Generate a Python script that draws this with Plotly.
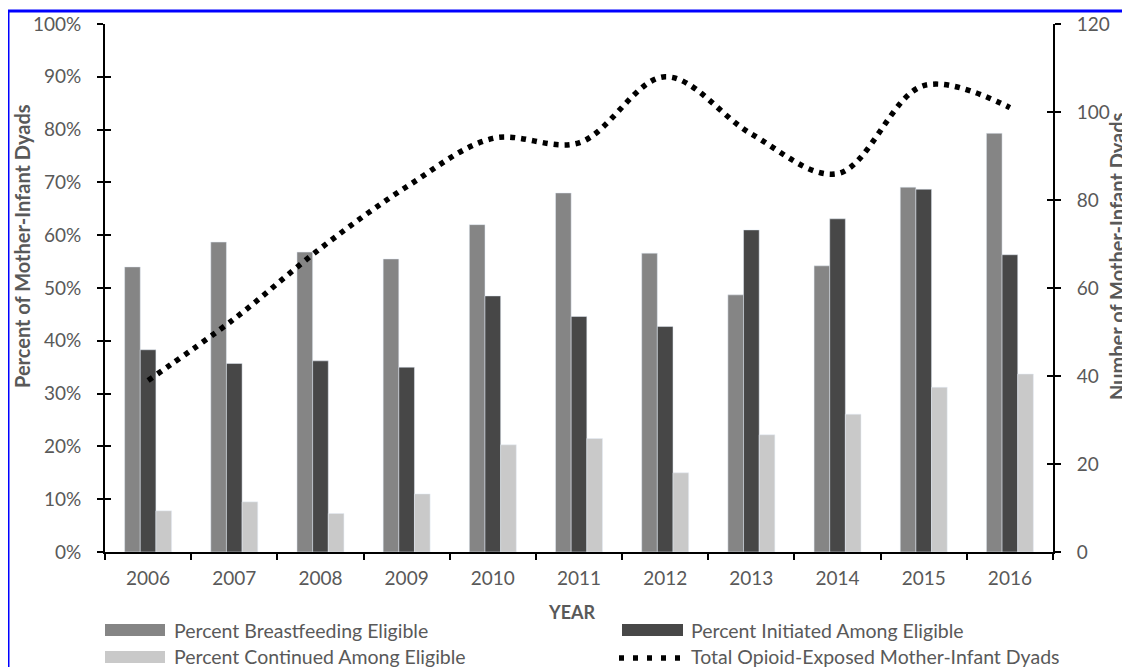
import plotly.graph_objects as go

years = ["2006", "2007", "2008", "2009", "2010", "2011", "2012", "2013", "2014", "2015", "2016"]
pct_eligible = [54.0, 58.7, 56.8, 55.5, 62.0, 68.0, 56.6, 48.7, 54.2, 69.1, 79.3]
pct_initiated = [38.3, 35.7, 36.2, 35.0, 48.5, 44.6, 42.7, 61.0, 63.1, 68.7, 56.3]
pct_continued = [7.8, 9.5, 7.3, 11.0, 20.3, 21.5, 15.0, 22.2, 26.1, 31.2, 33.7]
total_dyads = [39, 53, 69, 83, 94, 93, 108, 95, 86, 106, 101]

left_ticks = [0, 10, 20, 30, 40, 50, 60, 70, 80, 90, 100]
left_tick_text = [f"{v}%" for v in left_ticks]
right_ticks = [0, 20, 40, 60, 80, 100, 120]

legend_labels = [
    "Percent Breastfeeding Eligible",
    "Percent Initiated Among Eligible",
    "Percent Continued Among Eligible",
    "Total Opioid-Exposed Mother-Infant Dyads",
]

C_ELIG = "#858585"
C_INIT = "#474747"
C_CONT = "#c9c9c9"
TXT = "#595959"
FONT = "Lato"

OFF = 8  # page body margin
W, H = 1130 - OFF, 667 - OFF
# plot area in page pixels
L, R, T, B = 105, 1053, 24, 552


def px_x(p):
    return (p - L) / (R - L)


def px_y(p):
    return (B - p) / (B - T)


fig = go.Figure()
fig.add_trace(go.Bar(x=years, y=pct_eligible, marker_color=C_ELIG, name=legend_labels[0], showlegend=False))
fig.add_trace(go.Bar(x=years, y=pct_initiated, marker_color=C_INIT, name=legend_labels[1], showlegend=False))
fig.add_trace(go.Bar(x=years, y=pct_continued, marker_color=C_CONT, name=legend_labels[2], showlegend=False))
fig.add_trace(go.Scatter(
    x=years, y=total_dyads, yaxis="y2", mode="lines", name=legend_labels[3],
    line=dict(color="black", width=5.5, dash="5px,6px", shape="spline", smoothing=1.0),
    showlegend=False,
))
# invisible helpers so the inner tick overlay axes exist
fig.add_trace(go.Scatter(x=years, y=pct_eligible, yaxis="y3", mode="lines",
                         line=dict(width=0), opacity=0, hoverinfo="skip", showlegend=False))
fig.add_trace(go.Scatter(x=years, y=total_dyads, yaxis="y4", mode="lines",
                         line=dict(width=0), opacity=0, hoverinfo="skip", showlegend=False))

axis_font = dict(family=FONT, size=19, color=TXT)

fig.update_layout(
    width=W, height=H,
    margin=dict(l=L - OFF, r=W - (R - OFF), t=T - OFF, b=H - (B - OFF), pad=0, autoexpand=False),
    paper_bgcolor="white", plot_bgcolor="white",
    barmode="group", bargap=0.455, bargroupgap=0,
    font=dict(family=FONT, color=TXT),
    xaxis=dict(
        type="category", range=[-0.5, 10.5], automargin=False,
        showline=True, linecolor="black", linewidth=2,
        ticks="outside", ticklen=6, tickwidth=2, tickcolor="black",
        tickson="boundaries", showgrid=False, tickfont=axis_font,
        ticklabelstandoff=8,
    ),
    yaxis=dict(
        range=[0, 100], tickvals=left_ticks, ticktext=left_tick_text, automargin=False,
        showline=True, linecolor="black", linewidth=2,
        ticks="outside", ticklen=6, tickwidth=2, tickcolor="black",
        showgrid=False, zeroline=False, tickfont=axis_font, ticklabelstandoff=12,
    ),
    yaxis2=dict(
        range=[0, 120], tickvals=right_ticks, overlaying="y", side="right", automargin=False,
        showline=True, linecolor="black", linewidth=2,
        ticks="outside", ticklen=6, tickwidth=2, tickcolor="black",
        showgrid=False, zeroline=False, tickfont=axis_font, ticklabelstandoff=12,
    ),
    yaxis3=dict(
        range=[0, 100], tickvals=left_ticks, overlaying="y", side="left", automargin=False,
        showline=False, ticks="inside", ticklen=6, tickwidth=2, tickcolor="black",
        showticklabels=False, showgrid=False, zeroline=False,
    ),
    yaxis4=dict(
        range=[0, 120], tickvals=right_ticks, overlaying="y", side="right", automargin=False,
        showline=False, ticks="inside", ticklen=6, tickwidth=2, tickcolor="black",
        showticklabels=False, showgrid=False, zeroline=False,
    ),
)

title_font = dict(family=FONT, size=20, color=TXT, weight="bold")
annotations = [
    dict(text="Percent of Mother-Infant Dyads", x=px_x(22), y=px_y(246), textangle=-90,
         xref="paper", yref="paper", showarrow=False, font=title_font,
         xanchor="center", yanchor="middle"),
    dict(text="Number of Mother-Infant Dyads", x=px_x(1117), y=px_y(256), textangle=-90,
         xref="paper", yref="paper", showarrow=False, font=title_font,
         xanchor="center", yanchor="middle"),
    dict(text="YEAR", x=px_x(572), y=px_y(612), xref="paper", yref="paper",
         showarrow=False, font=dict(family=FONT, size=18, color=TXT, weight="bold"),
         xanchor="center", yanchor="middle"),
]

legend_font = dict(family=FONT, size=19.5, color=TXT)
leg_items = [
    (105, 165, 630, legend_labels[0], C_ELIG, 172),
    (622, 683, 630, legend_labels[1], C_INIT, 689),
    (105, 165, 657, legend_labels[2], C_CONT, 172),
]
shapes = []
for x0, x1, yc, lab, col, tx in leg_items:
    shapes.append(dict(type="rect", xref="paper", yref="paper",
                       x0=px_x(x0), x1=px_x(x1), y0=px_y(yc + 6), y1=px_y(yc - 6),
                       fillcolor=col, line=dict(width=0)))
    annotations.append(dict(text=lab, x=px_x(tx), y=px_y(yc), xref="paper", yref="paper",
                            showarrow=False, font=legend_font, xanchor="left", yanchor="middle"))
# dotted line legend
shapes.append(dict(type="line", xref="paper", yref="paper",
                   x0=px_x(619), x1=px_x(685), y0=px_y(658), y1=px_y(658),
                   line=dict(color="black", width=5.5, dash="5px,9px")))
annotations.append(dict(text=legend_labels[3], x=px_x(689), y=px_y(657), xref="paper", yref="paper",
                        showarrow=False, font=legend_font, xanchor="left", yanchor="middle"))
# blue frame
shapes.append(dict(type="rect", xref="paper", yref="paper",
                   x0=px_x(8), x1=px_x(1145), y0=px_y(690), y1=px_y(11),
                   line=dict(color="#0000ff", width=3), fillcolor="rgba(0,0,0,0)", layer="above"))

fig.update_layout(annotations=annotations, shapes=shapes)
fig.write_html("out.html")
